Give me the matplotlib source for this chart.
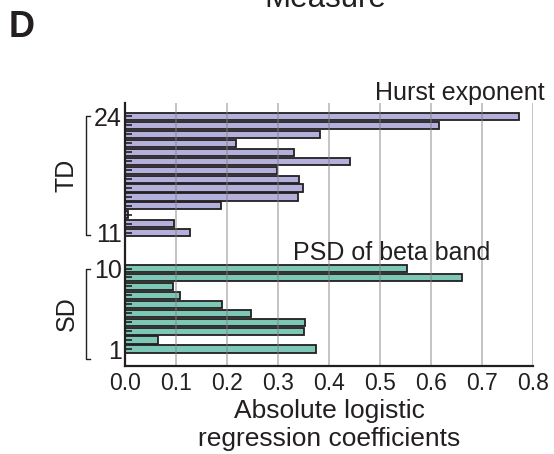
import matplotlib
matplotlib.use("Agg")
import matplotlib.pyplot as plt
import matplotlib.transforms as mtransforms
import numpy as np

plt.rcParams['font.family'] = ['Liberation Sans', 'DejaVu Sans']

# Data -------------------------------------------------------------
td_subjects = list(range(24, 10, -1))          # 24 .. 11
td_values = [0.773, 0.616, 0.382, 0.217, 0.330, 0.441, 0.297,
             0.340, 0.349, 0.338, 0.187, 0.005, 0.096, 0.126]
sd_subjects = list(range(10, 0, -1))           # 10 .. 1
sd_values = [0.552, 0.660, 0.093, 0.108, 0.189, 0.247, 0.353,
             0.351, 0.063, 0.374]
x_ticks = [0.0, 0.1, 0.2, 0.3, 0.4, 0.5, 0.6, 0.7, 0.8]
shown_labels = {24: "24", 11: "11", 10: "10", 1: "1"}

td_color = "#b4b0dc"
sd_color = "#7dc7b7"
edge = "#231f20"

# positions: SD at 1..10, TD shifted up by a gap of 3 empty rows
gap = 3
sd_pos = np.array(sd_subjects, dtype=float)
td_pos = np.array(td_subjects, dtype=float) + gap

fig = plt.figure(figsize=(5.54, 4.54), dpi=100)
ax = fig.add_axes([0.2265, 0.1938, 0.7355, 0.5792])

ax.barh(td_pos, td_values, height=0.8, color=td_color, edgecolor=edge,
        linewidth=1.3, zorder=1)
ax.barh(sd_pos, sd_values, height=0.8, color=sd_color, edgecolor=edge,
        linewidth=1.3, zorder=1)

ax.set_xlim(0, 0.8)
ax.set_ylim(-0.9, 28.5)
ax.set_xticks(x_ticks)
ax.set_xticklabels([f"{v:.1f}" for v in x_ticks], fontsize=16.5)
ax.tick_params(axis='x', length=0, pad=4, colors=edge)

all_pos = np.concatenate([td_pos, sd_pos])
all_subj = td_subjects + sd_subjects
ax.set_yticks(all_pos)
ax.set_yticklabels([shown_labels.get(s, "") for s in all_subj], fontsize=18)
ax.tick_params(axis='y', direction='in', length=5, width=1.2, pad=2.5,
               colors=edge)

ax.set_axisbelow(False)
ax.xaxis.grid(True, color='#808080', alpha=0.5, linewidth=1.3)
ax.yaxis.grid(False)

for s in ['top', 'right']:
    ax.spines[s].set_visible(False)
for s in ['left', 'bottom']:
    ax.spines[s].set_linewidth(1.6)
    ax.spines[s].set_color(edge)
    ax.spines[s].set_zorder(3)

ax.set_xlabel("Absolute logistic\nregression coefficients", fontsize=19,
              color=edge, labelpad=3, linespacing=1.2)

# group brackets
trans = mtransforms.blended_transform_factory(ax.transAxes, ax.transData)
def bracket(y0, y1, label):
    xs = [-0.087, -0.098, -0.098, -0.087]
    ys = [y1, y1, y0, y0]
    ax.plot(xs, ys, color=edge, linewidth=1.0, transform=trans,
            clip_on=False)
    ax.text(-0.145, (y0 + y1) / 2, label, rotation=90, fontsize=18,
            ha='center', va='center', transform=trans, color=edge)

bracket(td_pos.min() - 0.2, td_pos.max(), "TD")
bracket(sd_pos.min() - 1.1, sd_pos.max(), "SD")

ax.text(1.029, 1.011, "Hurst exponent", transform=ax.transAxes, fontsize=18,
        ha='right', va='baseline', color=edge)
ax.text(0.411, 11.0, "PSD of beta band", transform=trans, fontsize=18,
        ha='left', va='baseline', color=edge)

fig.text(0.588, 1 - 7 / 454, "Measure", fontsize=22.5, ha='center',
         va='baseline', color=edge)
fig.text(0.016, 1 - 37 / 454, "D", fontsize=26, fontweight='bold',
         ha='left', va='baseline', color=edge)

fig.savefig("out.png", dpi=100)
